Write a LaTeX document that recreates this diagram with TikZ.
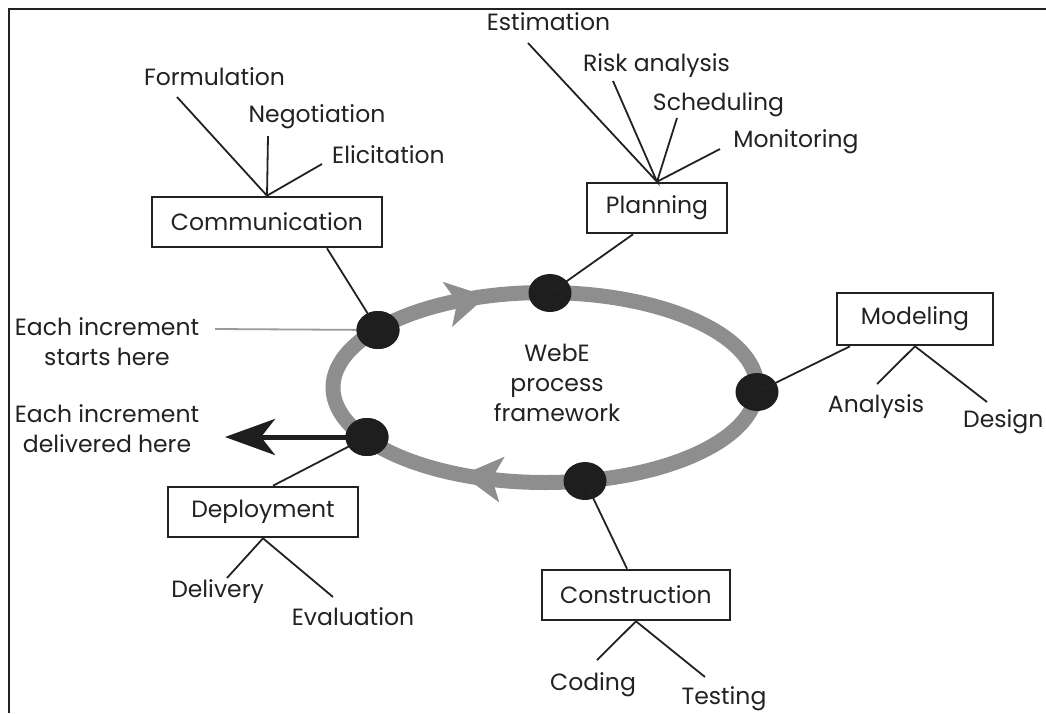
\documentclass[tikz,border=0pt]{standalone}
\usepackage{fontspec}
\setmainfont{Poppins}
\usetikzlibrary{arrows.meta,calc,shapes.geometric}
\definecolor{band}{HTML}{8E8E8E}
\definecolor{ink}{HTML}{222222}
\definecolor{dotc}{HTML}{1E1E1E}
\definecolor{thin}{HTML}{9A9A9A}
\begin{document}
\begin{tikzpicture}[x=1pt,y=-1pt,
  txt/.style={font=\fontsize{23.5}{30}\selectfont, text=ink, inner sep=0pt, align=center},
  box/.style={txt, draw=ink, line width=2.6pt, minimum height=50pt},
  conn/.style={draw=ink, line width=1.8pt},
  dotn/.style={ellipse, fill=dotc, minimum width=43pt, minimum height=38pt, inner sep=0pt},
  loop/.style={draw=band, line width=15pt},
  bandtip/.style={draw=band, line width=1pt, -{Stealth[length=40pt, width=46pt, inset=10pt, fill=band]}}]
\useasboundingbox (0,0) rectangle (1046,713);
\fill[white] (0,0) rectangle (1046,713);
% frame
\draw[ink, line width=2.5pt] (9,713) -- (9,9) -- (1046,9);
% process loop
\draw[loop] (545,387.5) ellipse [x radius=212, y radius=95];
\draw[bandtip] ({545+212*cos(124)},{387.5-95*sin(124)}) -- ({545+212*cos(106)},{387.5-95*sin(106)});
\draw[bandtip] ({545+212*cos(264)},{387.5-95*sin(264)}) -- ({545+212*cos(247)},{387.5-95*sin(247)});
\node[txt] (centre) at (557,383) {WebE\\process\\framework};
% dots
\node[dotn] (d1) at (378,330) {};
\node[dotn] (d2) at (550,293) {};
\node[dotn] (d3) at (757,392) {};
\node[dotn] (d4) at (585,481) {};
\node[dotn] (d5) at (367,437) {};
% boxes
\node[box, minimum width=230pt] (comm) at (267,222) {Communication};
\node[box, minimum width=140pt] (plan) at (657,208) {Planning};
\node[box, minimum width=156pt, minimum height=52pt] (model) at (915,319) {Modeling};
\node[box, minimum width=188pt] (constr) at (636,595) {Construction};
\node[box, minimum width=190pt] (deploy) at (263,512) {Deployment};
% labels
\node[txt] (formul) at (214.5,77) {Formulation};
\node[txt] (negot) at (317,117) {Negotiation};
\node[txt] (elicit) at (388.5,155) {Elicitation};
\node[txt] (estim) at (548.5,22) {Estimation};
\node[txt] (risk) at (656.5,66) {Risk analysis};
\node[txt] (sched) at (718.5,105) {Scheduling};
\node[txt] (monit) at (796,142) {Monitoring};
\node[txt] (anal) at (876,407) {Analysis};
\node[txt, anchor=west] (design) at (963,422) {Design};
\node[txt] (coding) at (593,685) {Coding};
\node[txt] (testing) at (724,699) {Testing};
\node[txt] (deliv) at (217.5,592) {Delivery};
\node[txt] (evalu) at (353,617) {Evaluation};
\node[txt] (starts) at (107,342) {Each increment\\starts here};
\node[txt] (delivd) at (107,429) {Each increment\\delivered here};
% free ends
\coordinate (eF) at (177,97);
\coordinate (eN) at (268,136);
\coordinate (eE) at (322,164);
\coordinate (eEs) at (528,43);
\coordinate (eR) at (613,81);
\coordinate (eS) at (677,118);
\coordinate (eM) at (720,149);
\coordinate (eA) at (877,384);
\coordinate (eD) at (987,402);
\coordinate (eC) at (597,660);
\coordinate (eT) at (705,677);
\coordinate (eDl) at (227,578);
\coordinate (eEv) at (333,597);
\coordinate (out) at (225,437);
\coordinate (sIn) at (215,329);
% connectors
\draw[conn] (eF) -- (comm.north) -- (eN);
\draw[conn] (comm.north) -- (eE);
\draw[conn] ([xshift=60pt]comm.south) -- (d1.center);
\draw[conn] (eEs) -- (plan.north) -- (eR);
\draw[conn] (eS) -- (plan.north) -- (eM);
\draw[conn] ([xshift=-24pt]plan.south) -- (d2.center);
\draw[conn] ([xshift=-65pt]model.south) -- (d3.center);
\draw[conn] (eA) -- (model.south) -- (eD);
\draw[conn] (d4.center) -- ([xshift=-9pt]constr.north);
\draw[conn] (eC) -- (constr.south) -- (eT);
\draw[conn] (d5.center) -- ([xshift=10pt]deploy.north);
\draw[conn] (eDl) -- (deploy.south) -- (eEv);
\draw[draw=thin, line width=1.8pt] (sIn) -- (d1.center);
\draw[draw=dotc, line width=5pt, -{Stealth[length=50pt, width=36pt, inset=14pt]}] (d5.center) -- (out);
\node[dotn] at (d1) {};
\node[dotn] at (d5) {};
\end{tikzpicture}
\end{document}
